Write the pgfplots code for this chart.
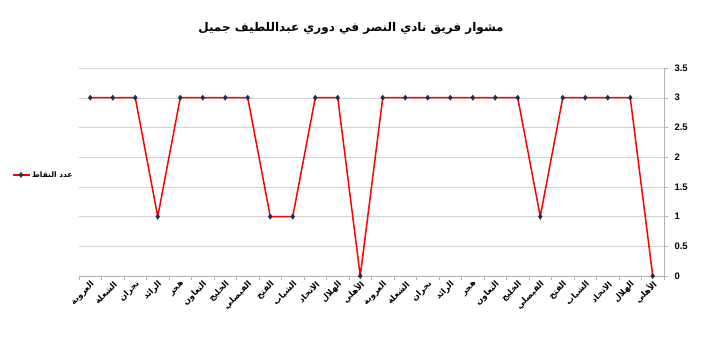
\documentclass[border=0pt]{standalone}
\usepackage{fontspec}
\usepackage{pgfplots}
\pgfplotsset{compat=1.18}
\setmainfont{Liberation Sans}
\newfontfamily\arabicfont[Script=Arabic]{DejaVu Sans}
\TeXXeTstate=1
\newcommand{\ar}[1]{{\arabicfont\beginR #1\endR}}
\definecolor{mk}{HTML}{1F2F4F}
\begin{document}
\begin{tikzpicture}
\useasboundingbox (0,0) rectangle (702pt,351pt);
\begin{axis}[
  at={(79pt,75pt)}, anchor=south west,
  scale only axis, width=585pt, height=208pt,
  xmin=-0.5, xmax=25.5, ymin=0, ymax=3.5,
  axis x line*=bottom, axis y line*=right,
  x axis line style={draw=gray!60}, y axis line style={draw=gray!60},
  ytick={0,0.5,1,1.5,2,2.5,3,3.5},
  yticklabel pos=right,
  ymajorgrids, grid style={draw=gray!35},
  tick align=outside, major tick length=4pt, minor tick length=4pt,
  ytick style={draw=gray!60},
  xtick={0,...,25},
  major x tick style={draw=none},
  minor xtick={-0.5,0.5,...,25.5},
  minor x tick style={draw=gray!60},
  xticklabels={\ar{العروبة},\ar{الشعلة},\ar{نجران},\ar{الرائد},\ar{هجر},\ar{التعاون},\ar{الخليج},\ar{الفيصلي},\ar{الفتح},\ar{الشباب},\ar{الاتحاد},\ar{الهلال},\ar{الأهلي},\ar{العروبة},\ar{الشعلة},\ar{نجران},\ar{الرائد},\ar{هجر},\ar{التعاون},\ar{الخليج},\ar{الفيصلي},\ar{الفتح},\ar{الشباب},\ar{الاتحاد},\ar{الهلال},\ar{الأهلي}},
  xticklabel style={rotate=45, anchor=east, font=\bfseries\fontsize{8.3}{9}\selectfont, inner sep=1pt, yshift=-4pt, xshift=1pt},
  yticklabel style={font=\bfseries\fontsize{9.5}{11}\selectfont, xshift=3pt},
  /pgf/number format/assume math mode=true,
  title={\ar{مشوار فريق نادي النصر في دوري عبداللطيف جميل}},
  title style={font=\bfseries\fontsize{12}{14}\selectfont, at={(axis description cs:0.465,1)}, anchor=center, yshift=34pt},
  legend entries={\ar{عدد النقاط}},
  legend style={at={(axis description cs:-0.115,0.486)}, anchor=west, draw=none, fill=none, font=\bfseries\fontsize{7.5}{9}\selectfont, inner sep=0pt},
  legend image post style={line width=1.2pt},
]
\addplot[draw=red, line width=1.5pt, mark=diamond*, mark size=2.6pt, mark options={fill=mk, draw=mk, line width=0.4pt}] coordinates {
(0,3) (1,3) (2,3) (3,1) (4,3) (5,3) (6,3) (7,3) (8,1) (9,1) (10,3) (11,3) (12,0)
(13,3) (14,3) (15,3) (16,3) (17,3) (18,3) (19,3) (20,1) (21,3) (22,3) (23,3) (24,3) (25,0)
};
\end{axis}
\end{tikzpicture}
\end{document}
